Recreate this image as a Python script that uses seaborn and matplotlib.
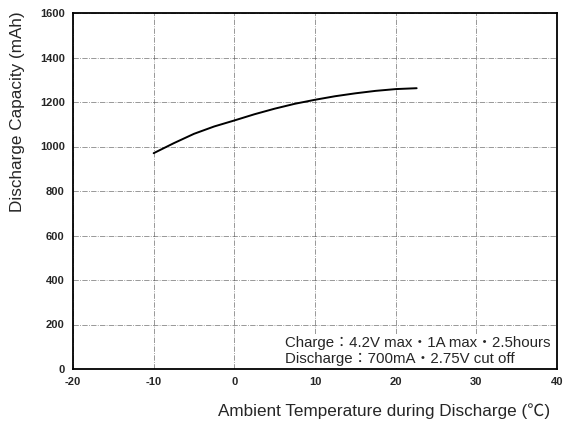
import matplotlib
matplotlib.use("Agg")
import matplotlib.pyplot as plt
import seaborn as sns
import pandas as pd

temps = [-10, -7.5, -5, -2.5, 0, 2.5, 5, 7.5, 10, 12.5, 15, 17.5, 20, 22.6]
capacity = [970, 1015, 1057, 1090, 1117, 1145, 1170, 1192, 1210, 1226, 1239, 1250, 1258, 1262]
x_ticks = [-20, -10, 0, 10, 20, 30, 40]
y_ticks = [0, 200, 400, 600, 800, 1000, 1200, 1400, 1600]
note = "Charge\uff1a4.2V max\u30fb1A max\u30fb2.5hours\nDischarge\uff1a700mA\u30fb2.75V cut off"

sns.set_theme(style="white")
plt.rcParams['font.family'] = ['Liberation Sans', 'Noto Sans CJK JP', 'DejaVu Sans']
plt.rcParams['axes.unicode_minus'] = False

df = pd.DataFrame({"t": temps, "c": capacity})
fig = plt.figure(figsize=(5.69, 4.29), dpi=100)
ax = fig.add_axes([73/569, 1-369/429, (557-73)/569, (369-13)/429])
sns.lineplot(data=df, x="t", y="c", ax=ax, color="black", linewidth=1.4)

ax.set_xlim(-20, 40)
ax.set_ylim(0, 1600)
ax.set_xticks(x_ticks)
ax.set_yticks(y_ticks)
ax.set_xticklabels([str(v) for v in x_ticks], fontsize=8, fontweight='bold')
ax.set_yticklabels([str(v) for v in y_ticks], fontsize=8, fontweight='bold')
ax.tick_params(axis='both', length=0, pad=6)
ax.grid(True, color='#555555', linestyle='-.', linewidth=0.6, alpha=0.7)
for s in ax.spines.values():
    s.set_color('black')
    s.set_linewidth(1.3)
ax.set_xlabel("")
ax.set_ylabel("")
fig.text(18/569, 1-112/429, "Discharge Capacity (mAh)", rotation=90,
         ha='center', va='center', fontsize=12.3)
fig.text(384/569, 1-411/429, "Ambient Temperature during Discharge (\u2103)",
         ha='center', va='center', fontsize=12.3)
ax.text(6.3, 14, note, ha='left', va='bottom', fontsize=10.8, linespacing=1.15,
        bbox=dict(facecolor='white', edgecolor='none', pad=1.5), zorder=5)

fig.savefig("out.png", dpi=100)
